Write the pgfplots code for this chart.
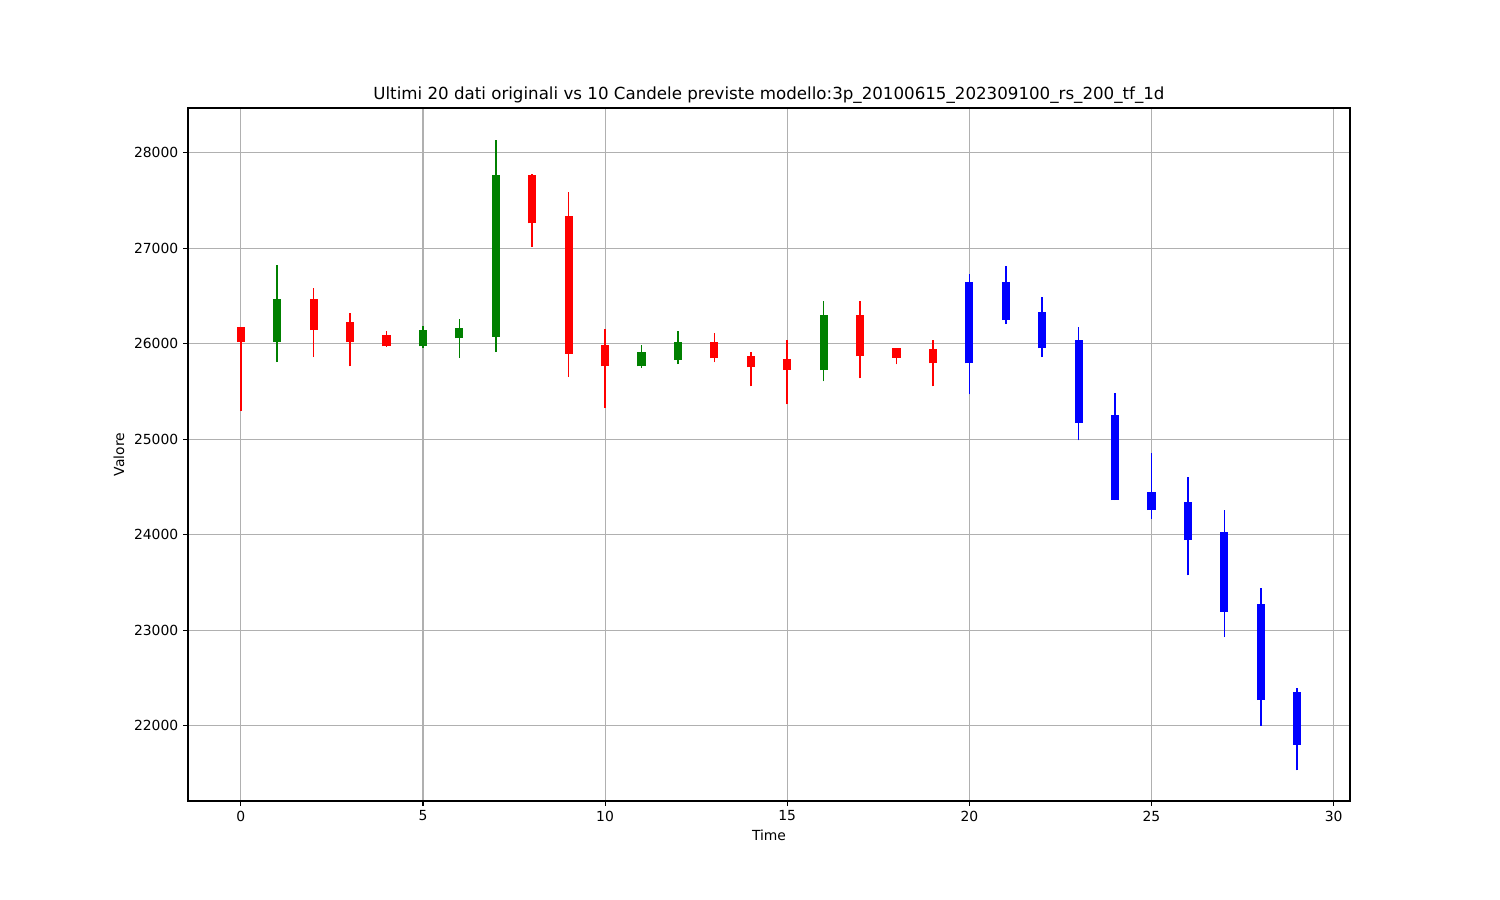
\documentclass[border=0pt]{standalone}
\usepackage{pgfplots}
\pgfplotsset{compat=1.18}
\usepackage{pgfplotstable}
\usepackage{fontspec}
\setmainfont{DejaVu Sans}
\definecolor{mplgreen}{HTML}{008000}
\definecolor{gridgray}{HTML}{B0B0B0}

% columns: x, low, high, body bottom, body top
\pgfplotstableread{
x lo hi bot top
0 25294 26174 26017 26174
2 25860 26579 26142 26474
3 25762 26320 26017 26226
4 25970 26132 25972 26097
8 27012 27775 27260 27765
9 25650 27588 25898 27343
10 25326 26150 25762 25982
13 25804 26111 25846 26017
14 25553 25912 25752 25870
15 25365 26035 25724 25836
17 25637 26443 25867 26297
18 25783 25951 25856 25951
19 25553 26035 25794 25940
}\redtab
\pgfplotstableread{
x lo hi bot top
1 25807 26820 26017 26474
5 25954 26181 25972 26142
6 25856 26258 26056 26160
7 25912 28139 26076 27765
11 25745 25982 25762 25912
12 25786 26132 25828 26017
16 25605 26443 25724 26297
}\greentab
\pgfplotstableread{
x lo hi bot top
20 25469 26736 25794 26652
21 26205 26813 26247 26652
22 25860 26495 25954 26328
23 24988 26171 25169 26035
24 24362 25480 24362 25249
25 24163 24859 24258 24446
26 23574 24600 23944 24341
27 22928 24254 23190 24024
28 21996 23438 22268 23273
29 21532 22394 21797 22349
}\bluetab

\pgfplotsset{
  wick/.style={#1, line width=1.1pt, forget plot, no markers, -,
    quiver={u=0, v=\thisrow{hi}-\thisrow{lo}}},
  body/.style={#1, line width=5.8pt, forget plot, no markers, -,
    quiver={u=0, v=\thisrow{top}-\thisrow{bot}}},
}

\begin{document}
\begin{tikzpicture}
\useasboundingbox (0,0) rectangle (1080pt,648pt);
\begin{axis}[
  at={(135.36pt,71.28pt)}, anchor=south west,
  scale only axis, width=836.64pt, height=498.96pt,
  xmin=-1.45, xmax=30.45, ymin=21210, ymax=28470,
  xtick={0,5,...,30}, ytick={22000,23000,...,28000},
  scaled y ticks=false,
  grid=major, grid style={gridgray, line width=0.8pt},
  axis line style={line width=0.8pt},
  tick align=outside, major tick length=3.5pt,
  tick style={black, line width=0.8pt},
  xtick pos=bottom, ytick pos=left,
  /pgf/number format/assume math mode=true,
  /pgf/number format/1000 sep={},
  ticklabel style={font=\fontsize{10}{12}\selectfont},
  title={Ultimi 20 dati originali vs 10 Candele previste modello:3p\_20100615\_202309100\_rs\_200\_tf\_1d},
  title style={font=\fontsize{12}{14}\selectfont, at={(0.5,1)}, anchor=base, inner sep=0pt},
  xlabel={Time},
  xlabel style={font=\fontsize{10}{12}\selectfont, at={(axis description cs:0.5,0)}, anchor=north, yshift=-20.5pt, inner sep=0pt},
  ylabel={Valore},
  ylabel style={font=\fontsize{10}{12}\selectfont, at={(axis description cs:0,0.5)}, anchor=center, yshift=49.7pt, inner sep=0pt},
]
\addplot [wick=red] table [x=x, y=lo] {\redtab};
\addplot [body=red] table [x=x, y=bot] {\redtab};
\addplot [wick=mplgreen] table [x=x, y=lo] {\greentab};
\addplot [body=mplgreen] table [x=x, y=bot] {\greentab};
\addplot [wick=blue] table [x=x, y=lo] {\bluetab};
\addplot [body=blue] table [x=x, y=bot] {\bluetab};
\end{axis}
\end{tikzpicture}
\end{document}
